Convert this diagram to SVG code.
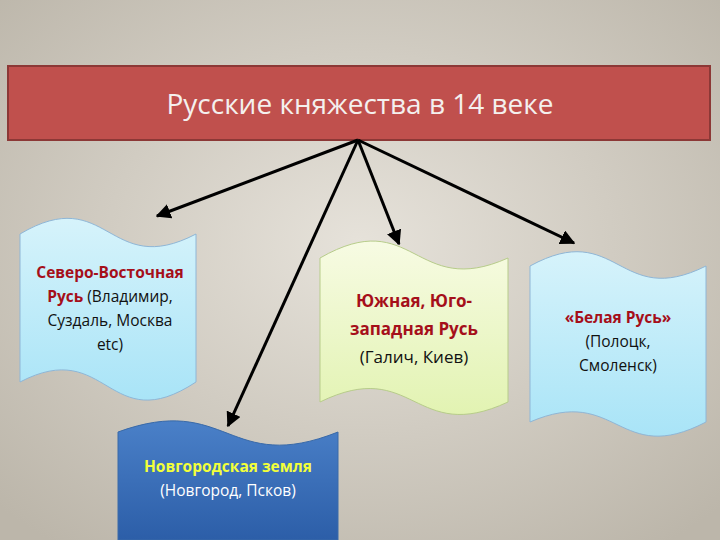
<svg xmlns="http://www.w3.org/2000/svg" width="720" height="540" viewBox="0 0 720 540">
<defs>
<radialGradient id="bg" cx="50%" cy="45%" r="70%"><stop offset="0" stop-color="#e6e2da"/><stop offset="1" stop-color="#bcb6aa"/></radialGradient>
<linearGradient id="blue" x1="0" y1="0" x2="0" y2="1"><stop offset="0" stop-color="#d6f3fb"/><stop offset="1" stop-color="#a9e4f7"/></linearGradient>
<linearGradient id="green" x1="0" y1="0" x2="0" y2="1"><stop offset="0" stop-color="#f7fbe3"/><stop offset="1" stop-color="#e2f3b2"/></linearGradient>
<linearGradient id="dblue" x1="0" y1="0" x2="0" y2="1"><stop offset="0" stop-color="#4a80c8"/><stop offset="1" stop-color="#2c5ea8"/></linearGradient>
<marker id="ah" viewBox="0 0 10 10" refX="9" refY="5" markerWidth="5" markerHeight="5" orient="auto"><path d="M0,0 L10,5 L0,10 z" fill="#000"/></marker>
<style>
text{font-family:"Open Sans","Liberation Sans",sans-serif;text-anchor:middle}
.n{font-size:15.5px;fill:#111}
.b{font-size:17px}
.r{fill:#a50f1a;font-weight:bold}
.c{stroke:#000;stroke-width:3;fill:none;marker-end:url(#ah)}
.w{stroke:#8fb6d6;stroke-width:1}
</style>
</defs>
<rect width="720" height="540" fill="url(#bg)"/>
<g id="title">
<rect x="8" y="66" width="702" height="74" fill="#c0504d" stroke="#8c3836" stroke-width="2"/>
<text x="360" y="114" font-size="28" fill="#f4f0ee">Русские княжества в 14 веке</text>
</g>
<g id="connectors">
<line class="c" x1="358" y1="140" x2="157" y2="216"/>
<line class="c" x1="358" y1="140" x2="399" y2="244"/>
<line class="c" x1="358" y1="140" x2="574" y2="243"/>
<line class="c" x1="358" y1="140" x2="228" y2="426"/>
</g>
<g id="ne">
<path class="w" fill="url(#blue)" d="M20,234 C108,182 108,280 196,234 L196,382 C108,440 108,336 20,382 Z"/>
<text class="n" x="110" y="278"><tspan class="r">Северо-Восточная</tspan></text>
<text class="n" x="110" y="302"><tspan class="r">Русь</tspan> (Владимир,</text>
<text class="n" x="110" y="326">Суздаль, Москва</text>
<text class="n" x="110" y="350">etc)</text>
</g>
<g id="south">
<path stroke="#b7cc8a" fill="url(#green)" d="M320,258 C414,204 414,300 508,258 L508,402 C414,446 414,356 320,402 Z"/>
<text class="n b" x="414" y="307"><tspan class="r">Южная, Юго-</tspan></text>
<text class="n b" x="414" y="335"><tspan class="r">западная Русь</tspan></text>
<text class="n b" x="414" y="363">(Галич, Киев)</text>
</g>
<g id="white">
<path class="w" fill="url(#blue)" d="M530,266 C618,218 618,310 706,266 L706,422 C618,468 618,384 530,422 Z"/>
<text class="n" x="618" y="323"><tspan class="r">«Белая Русь»</tspan></text>
<text class="n" x="618" y="347">(Полоцк,</text>
<text class="n" x="618" y="371">Смоленск)</text>
</g>
<g id="novgorod">
<path stroke="#3a6aa8" fill="url(#dblue)" d="M118,432 C228,392 228,476 338,432 L338,540 L118,540 L118,522 Z"/>
<text class="n" x="228" y="472" font-weight="bold" style="fill:#f2ff3a">Новгородская земля</text>
<text class="n" x="228" y="496" style="fill:#fff">(Новгород, Псков)</text>
</g>
</svg>
